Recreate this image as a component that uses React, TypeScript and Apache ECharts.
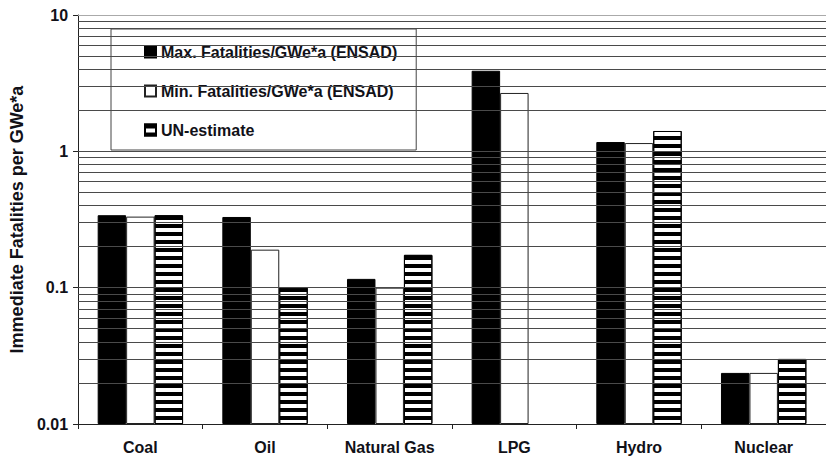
import React, { useEffect, useRef } from "react";
import * as echarts from "echarts";

const categories = ["Coal", "Oil", "Natural Gas", "LPG", "Hydro", "Nuclear"];
const maxValues = [0.34, 0.33, 0.116, 3.9, 1.17, 0.0237];
const minValues = [0.332, 0.19, 0.1, 2.68, 1.15, 0.0237];
const unValues: (number | null)[] = [0.34, 0.1, 0.174, null, 1.41, 0.03];
const gridValues = [
  0.02, 0.03, 0.04, 0.05, 0.06, 0.07, 0.08, 0.09, 0.1,
  0.2, 0.3, 0.4, 0.5, 0.6, 0.7, 0.8, 0.9, 1,
  2, 3, 4, 5, 6, 7, 8, 9,
];
const topValue = 10;
const axisMin = 0.01;
const axisMax = 10;

const TXT = "#111118";
const FONT = "'Liberation Sans', Arial, sans-serif";

export default function App() {
  const ref = useRef<HTMLDivElement>(null);
  useEffect(() => {
    if (!ref.current) return;
    const chart = echarts.init(ref.current, null, { renderer: "svg" });
    const barBase = {
      type: "bar" as const,
      barGap: "0%",
      barCategoryGap: "31.5%",
      z: 3,
    };
    chart.setOption({
      animation: false,
      backgroundColor: "#fff",
      textStyle: { fontFamily: FONT },
      grid: { left: 73, top: 15, bottom: 35, right: -9, containLabel: false },
      legend: {
        orient: "vertical",
        left: 111,
        top: 29,
        padding: [15, 19, 12, 33],
        itemGap: 23,
        itemWidth: 11,
        itemHeight: 11,
        icon: "rect",
        backgroundColor: "#fff",
        borderColor: "#444",
        borderWidth: 1,
        borderRadius: 0,
        z: 5,
        textStyle: {
          fontSize: 16,
          fontWeight: "bold",
          color: TXT,
          fontFamily: FONT,
          lineHeight: 16,
        },
        data: [
          "Max. Fatalities/GWe*a (ENSAD)",
          "Min. Fatalities/GWe*a (ENSAD)",
          "UN-estimate",
        ],
      },
      xAxis: {
        type: "category",
        data: categories,
        axisLine: { lineStyle: { color: "#222", width: 1 } },
        axisTick: { show: true, length: 5, lineStyle: { color: "#222" } },
        axisLabel: {
          fontSize: 16,
          fontWeight: "bold",
          color: TXT,
          fontFamily: FONT,
          margin: 15,
        },
        splitLine: { show: false },
      },
      yAxis: {
        type: "log",
        logBase: 10,
        min: axisMin,
        max: axisMax,
        startValue: axisMin,
        name: "Immediate Fatalities per GWe*a",
        nameLocation: "middle",
        nameGap: 45,
        nameRotate: 90,
        nameTextStyle: {
          fontSize: 18,
          fontWeight: "bold",
          color: TXT,
          fontFamily: FONT,
        },
        axisLine: { show: true, lineStyle: { color: "#222", width: 1 } },
        axisTick: { show: true, length: 5, lineStyle: { color: "#222" } },
        axisLabel: {
          fontSize: 16,
          fontWeight: "bold",
          color: TXT,
          fontFamily: FONT,
          margin: 10,
        },
        splitLine: { show: false },
        minorTick: { show: false },
      },
      series: [
        {
          type: "line",
          name: "grid",
          data: categories.map(() => null),
          z: 1,
          silent: true,
          symbol: "none",
          markLine: {
            silent: true,
            symbol: "none",
            label: { show: false },
            animation: false,
            lineStyle: { color: "#4a4a4a", width: 1, type: "solid" },
            data: [
              ...gridValues.map((v) => ({ yAxis: v })),
              { yAxis: topValue, lineStyle: { color: "#aaa", width: 1, type: "solid" } },
            ],
          },
        },
        {
          ...barBase,
          name: "Max. Fatalities/GWe*a (ENSAD)",
          data: maxValues,
          itemStyle: { color: "#000", borderColor: "#000", borderWidth: 1 },
        },
        {
          ...barBase,
          name: "Min. Fatalities/GWe*a (ENSAD)",
          data: minValues,
          itemStyle: { color: "#fff", borderColor: "#222", borderWidth: 1 },
        },
        {
          ...barBase,
          name: "UN-estimate",
          data: unValues.map((v) => (v === null ? "-" : v)),
          itemStyle: {
            color: "#fff",
            borderColor: "#000",
            borderWidth: 1,
            decal: {
              symbol: "rect",
              symbolSize: 1,
              color: "#000",
              dashArrayX: [8, 0],
              dashArrayY: [4, 3.4],
              rotation: 0,
            },
          },
        },
      ],
    });
    return () => chart.dispose();
  }, []);
  return (
    <div
      ref={ref}
      style={{ position: "fixed", left: 0, top: 0, width: 826, height: 459 }}
    />
  );
}
